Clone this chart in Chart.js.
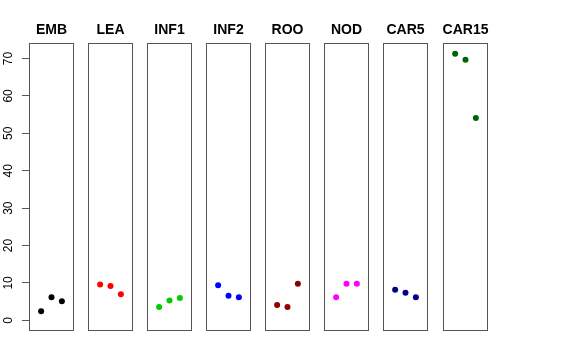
<!DOCTYPE html>
<html>
<head>
<meta charset="utf-8">
<script src="https://cdn.jsdelivr.net/npm/chart.js@4.4.0/dist/chart.umd.min.js"></script>
<style>
    html, body { margin: 0; padding: 0; background: #fff; }
    #wrap { position: relative; width: 576px; height: 360px; overflow: hidden; }
    #wrap canvas { position: absolute; top: 0; }
</style>
</head>
<body>
<div id="wrap"></div>
<script>
const groups = ["EMB", "LEA", "INF1", "INF2", "ROO", "NOD", "CAR5", "CAR15"];
const colors = ["#000000", "#FF0000", "#00CD00", "#0000FF", "#8B0000", "#FF00FF", "#00008B", "#006400"];

// three replicates per group
const emb = [2.4, 6.2, 5.1];
const lea = [9.6, 9.2, 7.0];
const inf1 = [3.6, 5.3, 6.0];
const inf2 = [9.4, 6.6, 6.2];
const roo = [4.1, 3.6, 9.8];
const nod = [6.2, 9.8, 9.8];
const car5 = [8.2, 7.4, 6.2];
const car15 = [71.3, 69.7, 54.1];
const values = [emb, lea, inf1, inf2, roo, nod, car5, car15];

const yTicks = [0, 10, 20, 30, 40, 50, 60, 70];
const yMin = -2.85;
const yMax = 74.15;

const FONT = "'Liberation Sans', Arial, Helvetica, sans-serif";
const panelLeft = [29, 88, 147, 206, 265, 324, 383, 443];
const panelWidth = 45;
const side = 29;

const boxPlugin = {
    id: "panelBox",
    beforeDatasetsDraw(chart) {
        const a = chart.chartArea;
        const ctx = chart.ctx;
        ctx.save();
        ctx.strokeStyle = "#555";
        ctx.lineWidth = 1;
        ctx.strokeRect(a.left + 0.5, a.top + 0.5, a.right - a.left - 1, a.bottom - a.top - 1);
        ctx.restore();
    }
};

const yLabelPlugin = {
    id: "yLabels",
    afterDraw(chart) {
        const y = chart.scales.y;
        const ctx = chart.ctx;
        ctx.save();
        ctx.fillStyle = "#000";
        ctx.font = "12px " + FONT;
        ctx.textAlign = "center";
        ctx.textBaseline = "middle";
        yTicks.forEach(t => {
            ctx.save();
            ctx.translate(9, y.getPixelForValue(t));
            ctx.rotate(-Math.PI / 2);
            ctx.fillText(String(t), 0, 0);
            ctx.restore();
        });
        ctx.restore();
    }
};

function makePanel(i) {
    const first = i === 0;
    const canvas = document.createElement("canvas");
    canvas.width = side + panelWidth + side;
    canvas.height = 360;
    canvas.style.left = (panelLeft[i] - side) + "px";
    document.getElementById("wrap").appendChild(canvas);

    new Chart(canvas, {
        type: "scatter",
        data: {
            datasets: [{
                data: values[i].map((v, k) => ({ x: k + 1, y: v })),
                backgroundColor: colors[i],
                borderColor: colors[i],
                pointRadius: 3,
                pointHoverRadius: 3,
                borderWidth: 0
            }]
        },
        options: {
            responsive: false,
            animation: false,
            layout: { autoPadding: false, padding: { left: 0, right: 0, top: 0, bottom: 29 } },
            plugins: {
                legend: { display: false },
                tooltip: { enabled: false },
                title: {
                    display: true,
                    text: groups[i],
                    color: "#000",
                    font: { family: FONT, size: 14, weight: "bold", lineHeight: 1 },
                    padding: { top: 23, bottom: 6 }
                }
            },
            scales: {
                x: { type: "linear", min: -0.17, max: 4.17, display: false },
                y: {
                    type: "linear",
                    position: "left",
                    min: yMin,
                    max: yMax,
                    border: { display: false },
                    grid: {
                        drawOnChartArea: false,
                        drawTicks: first,
                        tickLength: 7,
                        color: first ? "#555" : "rgba(0,0,0,0)"
                    },
                    ticks: {
                        stepSize: 10,
                        includeBounds: false,
                        color: "rgba(0,0,0,0)",
                        font: { family: FONT, size: 12 }
                    },
                    afterFit: s => { s.width = side; }
                },
                // empty right margin so the title centres over the panel
                yr: {
                    type: "linear",
                    position: "right",
                    min: yMin,
                    max: yMax,
                    border: { display: false },
                    grid: { display: false },
                    ticks: { color: "rgba(0,0,0,0)" },
                    afterFit: s => { s.width = side; }
                }
            }
        },
        plugins: first ? [boxPlugin, yLabelPlugin] : [boxPlugin]
    });
}

groups.forEach((g, i) => makePanel(i));
</script>
</body>
</html>
